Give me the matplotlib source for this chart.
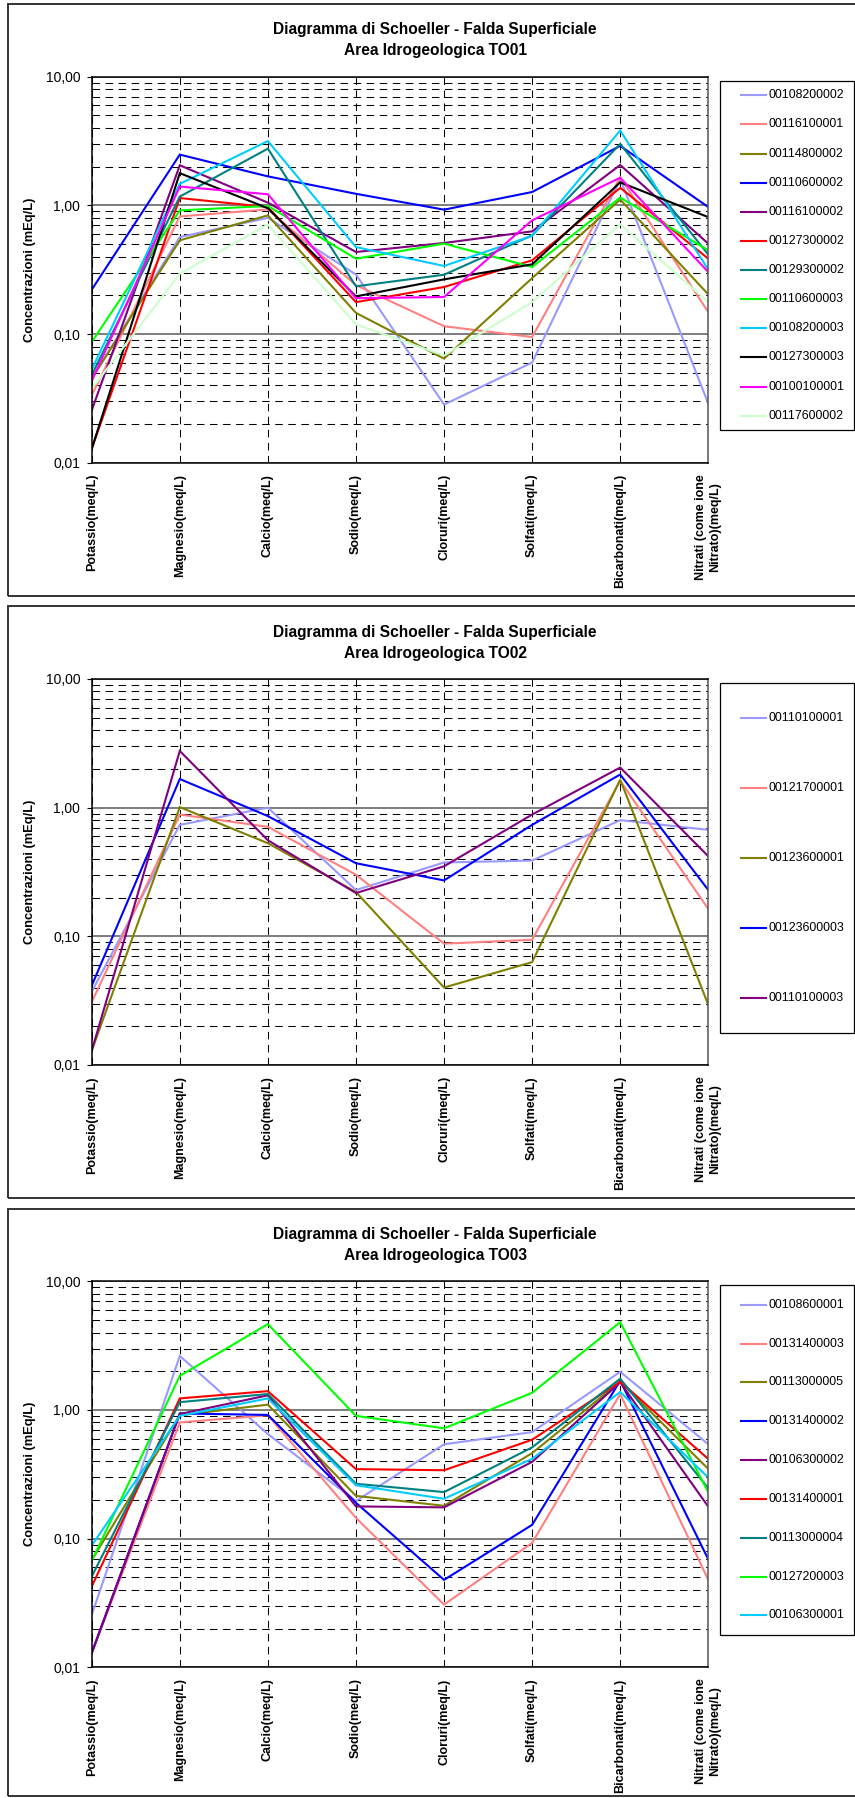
import matplotlib
matplotlib.use("Agg")
import matplotlib.pyplot as plt
from matplotlib.lines import Line2D
from matplotlib.patches import Rectangle

plt.rcParams['font.family'] = ['Liberation Sans', 'DejaVu Sans']
plt.rcParams['lines.scale_dashes'] = False

W, H = 855, 1798

categories = ["Potassio(meq/L)", "Magnesio(meq/L)", "Calcio(meq/L)", "Sodio(meq/L)",
              "Cloruri(meq/L)", "Solfati(meq/L)", "Bicarbonati(meq/L)",
              "Nitrati (come ione\nNitrato)(meq/L)"]
ytick_vals = [0.01, 0.1, 1, 10]
ytick_labels = ["0,01", "0,10", "1,00", "10,00"]

titles = ["Area Idrogeologica TO01", "Area Idrogeologica TO02", "Area Idrogeologica TO03"]

# ---- TO01 ----
to01_names = ["00108200002", "00116100001", "00114800002", "00110600002", "00116100002",
              "00127300002", "00129300002", "00110600003", "00108200003", "00127300003",
              "00100100001", "00117600002"]
to01_colors = ["#9999FF", "#FF8080", "#808000", "#0000FF", "#800080", "#FF0000",
               "#008080", "#00FF00", "#00CCFF", "#000000", "#FF00FF", "#CCFFCC"]
to01_s01 = [0.045, 0.567, 0.80, 0.29, 0.0283, 0.060, 1.60, 0.0288]
to01_s02 = [0.0334, 0.82, 0.93, 0.24, 0.115, 0.0948, 1.65, 0.148]
to01_s03 = [0.045, 0.535, 0.836, 0.146, 0.0644, 0.272, 1.11, 0.203]
to01_s04 = [0.221, 2.48, 1.68, 1.23, 0.926, 1.27, 2.90, 0.97]
to01_s05 = [0.0255, 2.05, 1.05, 0.434, 0.51, 0.628, 2.06, 0.504]
to01_s06 = [0.0128, 1.14, 0.97, 0.177, 0.232, 0.374, 1.37, 0.385]
to01_s07 = [0.048, 1.17, 2.76, 0.235, 0.289, 0.585, 3.00, 0.414]
to01_s08 = [0.0867, 0.914, 0.99, 0.385, 0.504, 0.332, 1.15, 0.447]
to01_s09 = [0.0529, 1.47, 3.16, 0.474, 0.338, 0.58, 3.82, 0.316]
to01_s10 = [0.0128, 1.78, 0.95, 0.196, 0.266, 0.348, 1.51, 0.81]
to01_s11 = [0.0431, 1.40, 1.22, 0.19, 0.194, 0.765, 1.64, 0.303]
to01_s12 = [0.0376, 0.294, 0.71, 0.119, 0.068, 0.177, 0.713, 0.177]
to01_values = [to01_s01, to01_s02, to01_s03, to01_s04, to01_s05, to01_s06,
               to01_s07, to01_s08, to01_s09, to01_s10, to01_s11, to01_s12]

# ---- TO02 ----
to02_names = ["00110100001", "00121700001", "00123600001", "00123600003", "00110100003"]
to02_colors = ["#9999FF", "#FF8080", "#808000", "#0000FF", "#800080"]
to02_s01 = [0.037, 0.735, 1.00, 0.229, 0.375, 0.388, 0.80, 0.672]
to02_s02 = [0.0308, 0.884, 0.71, 0.301, 0.0877, 0.094, 1.62, 0.163]
to02_s03 = [0.0129, 1.01, 0.529, 0.221, 0.040, 0.063, 1.65, 0.0293]
to02_s04 = [0.0413, 1.67, 0.86, 0.37, 0.272, 0.735, 1.81, 0.229]
to02_s05 = [0.0129, 2.76, 0.558, 0.217, 0.35, 0.884, 2.05, 0.419]
to02_values = [to02_s01, to02_s02, to02_s03, to02_s04, to02_s05]

# ---- TO03 ----
to03_names = ["00108600001", "00131400003", "00113000005", "00131400002", "00106300002",
              "00131400001", "00113000004", "00127200003", "00106300001"]
to03_colors = ["#9999FF", "#FF8080", "#808000", "#0000FF", "#800080", "#FF0000",
               "#008080", "#00FF00", "#00CCFF"]
to03_s01 = [0.0255, 2.63, 0.65, 0.196, 0.541, 0.673, 1.98, 0.541]
to03_s02 = [0.0129, 0.80, 0.91, 0.145, 0.0307, 0.0927, 1.33, 0.0478]
to03_s03 = [0.068, 0.91, 1.10, 0.215, 0.18, 0.462, 1.66, 0.348]
to03_s04 = [0.0129, 0.94, 0.915, 0.19, 0.0478, 0.128, 1.69, 0.069]
to03_s05 = [0.0129, 0.93, 1.30, 0.178, 0.175, 0.395, 1.64, 0.177]
to03_s06 = [0.0424, 1.23, 1.40, 0.347, 0.34, 0.587, 1.66, 0.416]
to03_s07 = [0.0507, 1.15, 1.33, 0.267, 0.23, 0.512, 1.75, 0.246]
to03_s08 = [0.0671, 1.84, 4.65, 0.90, 0.72, 1.36, 4.81, 0.229]
to03_s09 = [0.0882, 0.90, 1.23, 0.26, 0.204, 0.417, 1.38, 0.298]
to03_values = [to03_s01, to03_s02, to03_s03, to03_s04, to03_s05, to03_s06,
               to03_s07, to03_s08, to03_s09]

panels = [(to01_names, to01_colors, to01_values),
          (to02_names, to02_colors, to02_values),
          (to03_names, to03_colors, to03_values)]

fig = plt.figure(figsize=(W / 100, H / 100), dpi=100)


def fx(x):
    return x / W


def fy(y):
    return 1 - y / H


DASH = (0, (5.4, 4.0))
PANEL_STEP = 602.3

for k, (names, colors, values) in enumerate(panels):
    dy = k * PANEL_STEP
    # panel frame
    ptop, pbot = 4 + dy, min(595.7 + dy, 1796)
    fig.add_artist(Rectangle((fx(8), fy(pbot)), fx(880) - fx(8), fy(ptop) - fy(pbot),
                             transform=fig.transFigure, fill=False,
                             edgecolor="#333333", lw=1.4))
    # titles
    fig.text(fx(435), fy(29.9 + dy), "Diagramma di Schoeller - Falda Superficiale",
             ha="center", va="center", fontsize=11.2, fontweight="bold")
    fig.text(fx(435), fy(50.9 + dy), titles[k],
             ha="center", va="center", fontsize=11.2, fontweight="bold")

    left, right, top, bottom = 91.7, 708.3, 76.7 + dy, 462.7 + dy
    ax = fig.add_axes([fx(left), fy(bottom), fx(right) - fx(left), fy(top) - fy(bottom)])
    ax.set_yscale("log")
    ax.set_ylim(0.01, 10)
    ax.set_xlim(0, len(categories) - 1)

    xs = list(range(len(categories)))
    lines = []
    for name, col, vals in zip(names, colors, values):
        ln, = ax.plot(xs, vals, color=col, lw=1.5, label=name, zorder=3,
                      solid_joinstyle="miter")
        lines.append(ln)

    ax.set_yticks(ytick_vals)
    ax.set_yticklabels(ytick_labels, fontsize=10)
    ax.yaxis.set_minor_locator(matplotlib.ticker.LogLocator(base=10, subs=range(2, 10)))
    ax.yaxis.set_minor_formatter(matplotlib.ticker.NullFormatter())
    ax.tick_params(axis="y", which="major", length=3.6, width=0.8, pad=4.6)
    ax.tick_params(axis="y", which="minor", length=0)
    ax.yaxis.grid(True, which="minor", linestyle=DASH, color="black", lw=0.75)
    ax.yaxis.grid(True, which="major", linestyle="-", color="#5a5a5a", lw=1.1)

    ax.set_xticks(xs)
    ax.set_xticklabels(categories, rotation=90, fontsize=9, fontweight="bold",
                       va="top", ha="center", multialignment="center")
    ax.tick_params(axis="x", length=0, pad=8.0)
    ax.xaxis.grid(True, which="major", linestyle=DASH, color="black", lw=0.75)
    ax.set_axisbelow(True)

    for sp in ax.spines.values():
        sp.set_color("black")
        sp.set_linewidth(1.1)
        sp.set_zorder(4)
    ax.spines["right"].set_color("#555555")

    ax.set_ylabel("Concentrazioni (mEq/L)", fontsize=9.3, fontweight="bold", va="center")
    ax.yaxis.set_label_coords((30 - left) / (right - left), 0.5)

    # legend box (drawn in figure pixels)
    ltop, lh = 80.7 + dy, 349.5
    fig.add_artist(Rectangle((fx(719.5), fy(ltop + lh)), fx(854) - fx(719.5),
                             fy(ltop) - fy(ltop + lh), transform=fig.transFigure,
                             fill=False, edgecolor="black", lw=0.9))
    n = len(lines)
    for i, ln in enumerate(lines):
        yy = ltop + (i + 0.5) * lh / n
        fig.add_artist(Line2D([fx(740.7), fx(765.7)], [fy(yy), fy(yy)],
                              transform=fig.transFigure, color=ln.get_color(), lw=1.5))
        fig.text(fx(768.3), fy(yy), ln.get_label(), ha="left", va="center", fontsize=8.9)

fig.savefig("out.png", dpi=100)
